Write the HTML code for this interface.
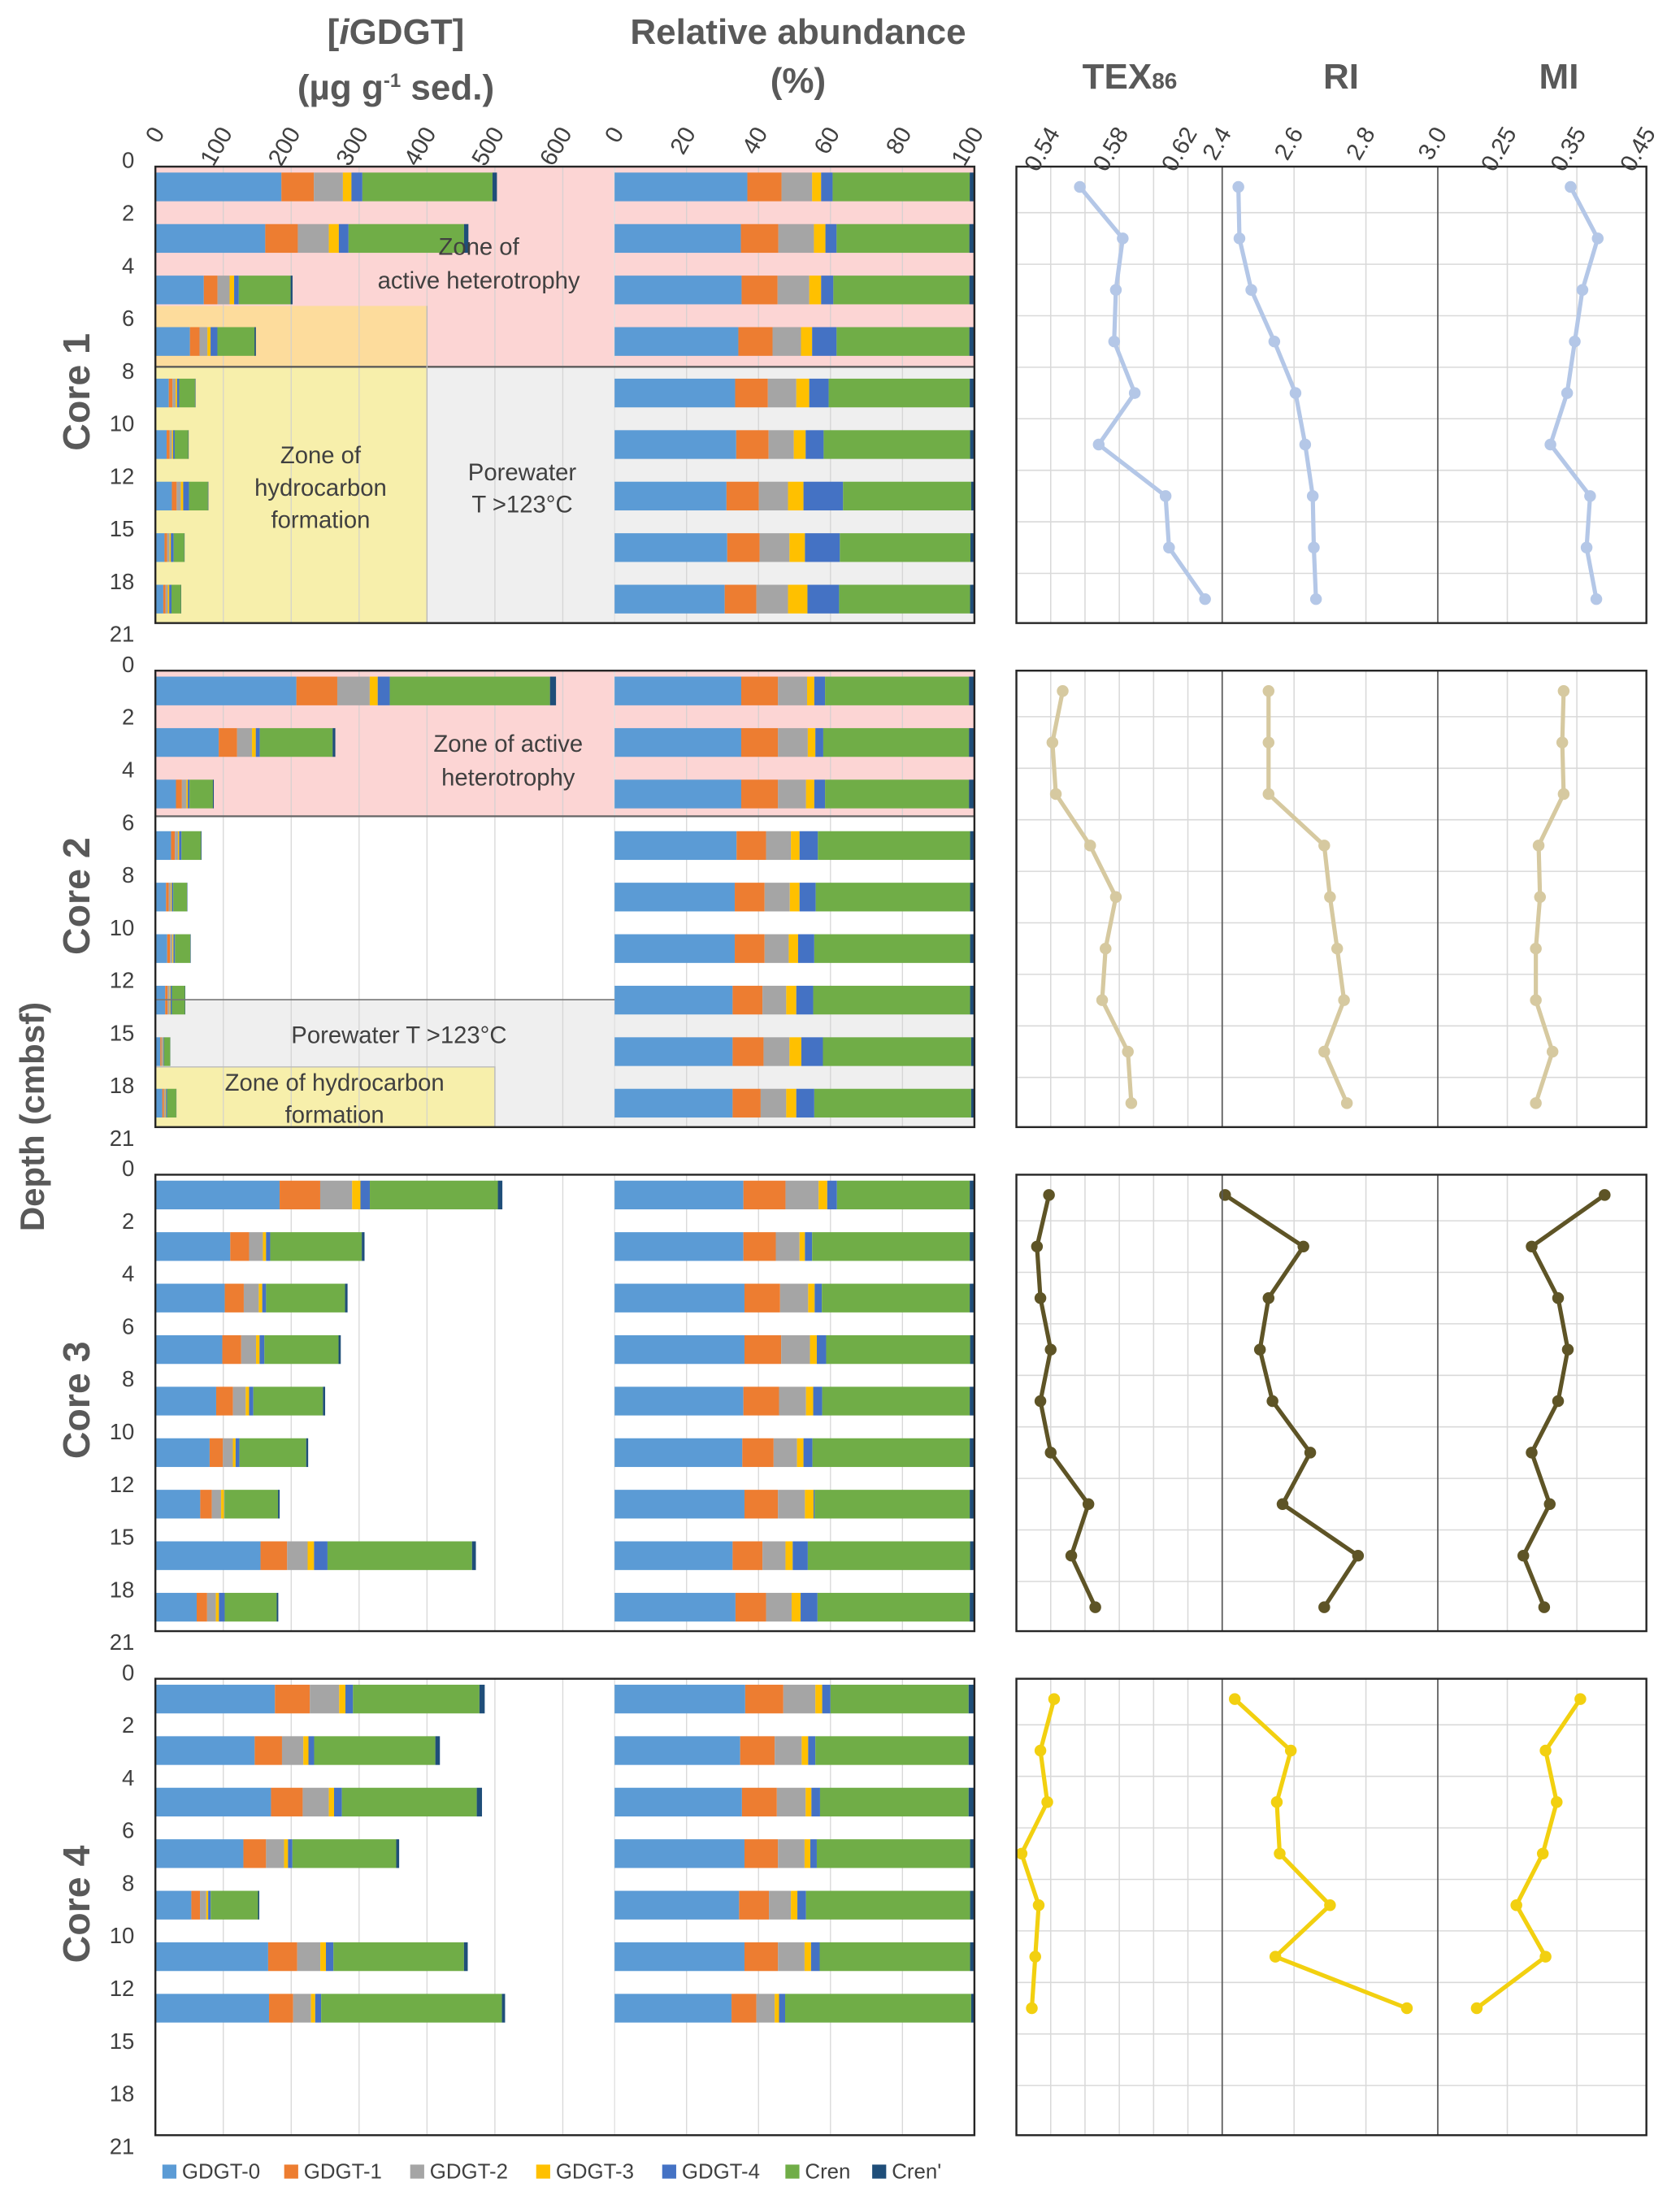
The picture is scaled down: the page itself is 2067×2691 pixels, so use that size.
<!DOCTYPE html>
<html><head><meta charset="utf-8"><title>iGDGT cores</title>
<style>
html,body{margin:0;padding:0;background:#fff;}
svg{display:block;font-family:"Liberation Sans",sans-serif;}
.zt{font-family:"Liberation Sans Narrow","Liberation Sans",sans-serif;font-size:17px;fill:#404040;text-anchor:middle;}
</style></head>
<body>
<svg id="chart" xmlns="http://www.w3.org/2000/svg" width="2067" height="2691" viewBox="0 0 1200 1562" preserveAspectRatio="none">
<g id="bg"></g>
<g id="grid"></g>
<g id="marks"></g>
<g id="frame"></g>
<g id="labels"></g>
</svg>
<script>
// ---------- DATA ----------
const compounds = ["GDGT-0","GDGT-1","GDGT-2","GDGT-3","GDGT-4","Cren","Cren'"];
const colors = ["#5b9bd5","#ed7d31","#a5a5a5","#ffc000","#4472c4","#70ad47","#1f4e79"];
const depthLabels = ["0","2","4","6","8","10","12","15","18","21"];
const concTicks = [0,100,200,300,400,500,600];
const pctTicks = [0,20,40,60,80,100];
const texTicks = ["0.54","0.58","0.62"];
const riTicks = ["2.4","2.6","2.8","3.0"];
const miTicks = ["0.25","0.35","0.45"];

const c1Total = [503,461,202,148,59,49,78,43,38];
const c1Pct = [[36.9,9.5,8.5,2.5,3.2,38.1,1.3],[35.1,10.4,9.9,3.2,3.1,36.9,1.4],[35.3,10.0,8.8,3.3,3.4,37.8,1.4],[34.4,9.5,7.9,3.1,6.8,36.9,1.4],[33.5,9.1,7.9,3.6,5.4,39.2,1.3],[33.8,9.0,7.0,3.3,5.0,40.7,1.2],[31.1,9.0,8.1,4.3,11.0,35.6,0.9],[31.3,9.0,8.3,4.3,9.7,36.3,1.1],[30.6,8.8,8.8,5.4,8.8,36.4,1.2]];
const c1Tex = [0.557,0.582,0.578,0.577,0.589,0.568,0.607,0.609,0.630];
const c1Ri = [2.445,2.448,2.481,2.545,2.604,2.631,2.652,2.655,2.661];
const c1Mi = [0.341,0.380,0.358,0.347,0.336,0.312,0.369,0.364,0.378];

const c2Total = [590,265,86,68,47,52,44,22,31];
const c2Pct = [[35.2,10.2,8.1,2.0,3.0,40.0,1.5],[35.2,10.2,8.3,2.1,2.2,40.5,1.5],[35.2,10.2,7.8,2.3,3.0,40.0,1.5],[33.9,8.2,6.9,2.4,5.1,42.3,1.2],[33.4,8.3,7.0,2.7,4.5,42.9,1.2],[33.4,8.3,6.7,2.6,4.5,43.3,1.2],[32.8,8.3,6.6,2.8,4.7,43.6,1.2],[32.8,8.6,7.2,3.3,6.0,41.2,0.9],[32.8,7.8,7.1,2.8,5.0,43.6,0.9]];
const c2Tex = [0.547,0.541,0.543,0.563,0.578,0.572,0.570,0.585,0.587];
const c2Ri = [2.529,2.529,2.529,2.684,2.700,2.720,2.739,2.684,2.747];
const c2Mi = [0.331,0.329,0.331,0.295,0.297,0.291,0.291,0.315,0.291];

const c3Total = [511,308,283,273,250,225,183,472,181];
const c3Pct = [[35.8,11.7,9.2,2.4,2.7,36.9,1.3],[35.8,9.0,6.6,1.5,2.0,43.8,1.3],[36.1,9.9,7.8,1.8,2.0,41.1,1.3],[36.1,10.2,8.0,1.9,2.6,40.0,1.2],[35.8,9.9,7.5,2.0,2.5,41.0,1.3],[35.5,8.7,6.5,1.8,2.5,43.7,1.3],[36.1,9.3,7.5,2.4,0.3,43.1,1.3],[32.8,8.3,6.4,2.0,4.2,45.1,1.2],[33.6,8.5,7.1,2.5,4.7,42.3,1.3]];
const c3Tex = [0.539,0.532,0.534,0.540,0.534,0.540,0.562,0.552,0.566];
const c3Ri = [2.408,2.626,2.529,2.505,2.540,2.645,2.568,2.778,2.684];
const c3Mi = [0.390,0.285,0.323,0.337,0.323,0.285,0.311,0.273,0.303];

const c4Total = [485,419,481,359,153,460,515];
const c4Pct = [[36.3,10.6,8.9,1.9,2.3,38.4,1.6],[34.9,9.6,7.5,1.8,2.0,42.6,1.6],[35.4,9.7,8.0,1.6,2.4,41.3,1.6],[36.1,9.3,7.4,1.6,1.8,42.6,1.2],[34.6,8.3,6.1,1.8,2.4,45.6,1.2],[36.1,9.3,7.4,1.8,2.4,41.8,1.2],[32.5,6.9,5.1,1.2,1.7,51.7,0.9]];
const c4Tex = [0.542,0.534,0.538,0.523,0.533,0.531,0.529];
const c4Ri = [2.435,2.591,2.552,2.560,2.700,2.548,2.914];
const c4Mi = [0.355,0.305,0.321,0.301,0.263,0.305,0.206];

const lineColors = ["#b4c7e7","#d6c9a0","#5e5426","#f2d010"];

// ---------- HELPERS ----------
const NS = "http://www.w3.org/2000/svg";
function mk(tag, attrs, parent, text){
  const e = document.createElementNS(NS, tag);
  for (const k in attrs) e.setAttribute(k, attrs[k]);
  if (text !== undefined) e.textContent = text;
  parent.appendChild(e);
  return e;
}
const gBg = document.getElementById("bg"), gGrid = document.getElementById("grid"),
      gMarks = document.getElementById("marks"), gFrame = document.getElementById("frame"),
      gLab = document.getElementById("labels");

const L0 = 111, SPLIT = 439, R1 = 696;
const xConc = v => L0 + v * 0.485;
const xPct = v => SPLIT + v * 2.57;
const xTex = v => 726 + (v - 0.52) / 0.12 * 147;
const xRi = v => 873 + (v - 2.4) / 0.6 * 154;
const xMi = v => 1027 + (v - 0.15) / 0.3 * 149;
const coreY0 = k => 114 + 360 * k;
const yBar = (k, i) => coreY0(k) + 19.5 + 36.8 * i;
const BAR_H = 20.5;

const cores = [
  {total:c1Total, pct:c1Pct, tex:c1Tex, ri:c1Ri, mi:c1Mi},
  {total:c2Total, pct:c2Pct, tex:c2Tex, ri:c2Ri, mi:c2Mi},
  {total:c3Total, pct:c3Pct, tex:c3Tex, ri:c3Ri, mi:c3Mi},
  {total:c4Total, pct:c4Pct, tex:c4Tex, ri:c4Ri, mi:c4Mi}
];

// ---------- ZONES ----------
function rect(p, x, y, w, h, fill, name){
  const r = mk("rect", {x:x, y:y, width:w, height:h, fill:fill}, p);
  
  
  return r;
}
{
  const t = coreY0(0) + 5, b = coreY0(0) + 331, line = coreY0(0) + 148, yel = coreY0(0) + 104.5;
  rect(gBg, L0, t, R1 - L0, line - t, "#fcd5d4", "heterotrophy-zone-core1");
  rect(gBg, L0, line, R1 - L0, b - line, "#efefef", "porewater-zone-core1");
  rect(gBg, L0, yel, xConc(400) - L0, line - yel, "#fddc9c", "overlap-zone-core1");
  rect(gBg, L0, line, xConc(400) - L0, b - line, "#f7efab", "hydrocarbon-zone-core1");
  const l = mk("line", {x1:L0, x2:R1, y1:line, y2:line, stroke:"#555", "stroke-width":1.3}, gFrame);
  
  
  const l2 = mk("line", {x1:xConc(400), x2:xConc(400), y1:yel, y2:b, stroke:"#bbb", "stroke-width":0.8}, gFrame);
  
  
}
{
  const t = coreY0(1) + 5, b = coreY0(1) + 331, line = coreY0(1) + 109, grey = coreY0(1) + 240, yel = coreY0(1) + 288;
  rect(gBg, L0, t, R1 - L0, line - t, "#fcd5d4", "heterotrophy-zone-core2");
  rect(gBg, L0, grey, R1 - L0, b - grey, "#efefef", "porewater-zone-core2");
  rect(gBg, L0, yel, xConc(500) - L0, b - yel, "#f7efab", "hydrocarbon-zone-core2");
  const l = mk("line", {x1:L0, x2:R1, y1:line, y2:line, stroke:"#666", "stroke-width":1.3}, gFrame);
  
  
  const l2 = mk("line", {x1:L0, x2:SPLIT, y1:grey, y2:grey, stroke:"#777", "stroke-width":1}, gFrame);
  
  
  const l3 = mk("path", {d:`M${L0} ${yel}H${xConc(500)}V${b}`, fill:"none", stroke:"#bbb", "stroke-width":0.8}, gFrame);
  
  
}

// ---------- GRID + BARS + LINES ----------
cores.forEach((c, k) => {
  const t = coreY0(k) + 5, b = coreY0(k) + 331;
  concTicks.forEach(v => { if (v > 0) {
    const g = mk("line", {x1:xConc(v), x2:xConc(v), y1:t, y2:b, stroke:"#d0d0d0", "stroke-width":0.8, "stroke-opacity":0.8}, gGrid);
    
    
  }});
  pctTicks.forEach(v => { if (v > 0 && v < 100) {
    const g = mk("line", {x1:xPct(v), x2:xPct(v), y1:t, y2:b, stroke:"#d0d0d0", "stroke-width":0.8, "stroke-opacity":0.8}, gGrid);
    
    
  }});
  const sep = mk("line", {x1:SPLIT, x2:SPLIT, y1:t, y2:b, stroke:"#e0e0e0", "stroke-width":0.8}, gGrid);
  
  

  c.pct.forEach((p, i) => {
    const yc = yBar(k, i);
    let accC = 0, accP = 0;
    p.forEach((v, j) => {
      const conc = c.total[i] * v / 100;
      const r1 = mk("rect", {x:xConc(accC), y:yc - BAR_H/2, width:Math.max(0, xConc(accC + conc) - xConc(accC)), height:BAR_H, fill:colors[j]}, gMarks);
      
      
      const r2 = mk("rect", {x:xPct(accP), y:yc - BAR_H/2, width:Math.max(0, xPct(accP + v) - xPct(accP)), height:BAR_H, fill:colors[j]}, gMarks);
      
      
      accC += conc; accP += v;
    });
  });

  [0.54,0.56,0.58,0.60,0.62].forEach(v => {
    const g = mk("line", {x1:xTex(v), x2:xTex(v), y1:t, y2:b, stroke:"#d9d9d9", "stroke-width":0.9}, gGrid);
    
    
  });
  [2.6,2.8].forEach(v => {
    const g = mk("line", {x1:xRi(v), x2:xRi(v), y1:t, y2:b, stroke:"#d9d9d9", "stroke-width":0.9}, gGrid);
    
    
  });
  [0.25,0.35].forEach(v => {
    const g = mk("line", {x1:xMi(v), x2:xMi(v), y1:t, y2:b, stroke:"#d9d9d9", "stroke-width":0.9}, gGrid);
    
    
  });
  for (let i = 0; i < 8; i++) {
    const y = yBar(k, i) + 18.4;
    const g = mk("line", {x1:726, x2:1176, y1:y, y2:y, stroke:"#d9d9d9", "stroke-width":0.9}, gGrid);
    
    
  }
  [873, 1027].forEach(x => {
    const d = mk("line", {x1:x, x2:x, y1:t, y2:b, stroke:"#595959", "stroke-width":1}, gFrame);
    
    
  });

  const series = [[c.tex, xTex, 'tex86'], [c.ri, xRi, 'ri'], [c.mi, xMi, 'mi']];
  series.forEach(([arr, fx, nm]) => {
    const pts = arr.map((v, i) => fx(v).toFixed(2) + "," + yBar(k, i).toFixed(2)).join(" ");
    const pl = mk("polyline", {points:pts, fill:"none", stroke:lineColors[k], "stroke-width":3, "stroke-linejoin":"round"}, gMarks);
    
    
    arr.forEach((v, i) => {
      const cc = mk("circle", {cx:fx(v), cy:yBar(k, i), r:4.2, fill:lineColors[k]}, gMarks);
      
      
    });
  });

  const f1 = mk("rect", {x:L0, y:t, width:R1 - L0, height:b - t, fill:"none", stroke:"#262626", "stroke-width":1.4}, gFrame);
  
  
  const f2 = mk("rect", {x:726, y:t, width:450, height:b - t, fill:"none", stroke:"#262626", "stroke-width":1.4}, gFrame);
  
  

  depthLabels.forEach((d, i) => {
    const tx = mk("text", {x:96, y:coreY0(k) + 37.6 * i + 6, "font-size":16, fill:"#404040", "text-anchor":"end"}, gLab, d);
    
    
  });
  const cl = mk("text", {x:0, y:0, "font-size":27, "font-weight":"bold", fill:"#595959", "text-anchor":"middle", transform:`translate(64 ${coreY0(k)+166}) rotate(-90)`}, gLab, "Core " + (k+1));
  
  
});

// ---------- AXIS LABELS ----------
function rotTick(x, txt, name){
  const t = mk("text", {x:0, y:0, "font-size":17, fill:"#404040", "text-anchor":"end", transform:`translate(${x+7} 95) rotate(-60)`}, gLab, txt);
  
  
}
concTicks.forEach(v => rotTick(xConc(v), String(v), 'conc-tick-label'));
pctTicks.forEach(v => rotTick(xPct(v), String(v), 'pct-tick-label'));
texTicks.forEach(v => rotTick(xTex(+v), v, 'tex-tick-label'));
riTicks.forEach(v => rotTick(xRi(+v), v, 'ri-tick-label'));
miTicks.forEach(v => rotTick(xMi(+v), v, 'mi-tick-label'));

[["Zone of",342,182],["active heterotrophy",342,206],["Zone of",229,331],["hydrocarbon",229,354],["formation",229,377],
 ["Porewater",373,343],["T >123°C",373,366],["Zone of active",363,537],["heterotrophy",363,561],
 ["Porewater T >123°C",285,745],["Zone of hydrocarbon",239,779],["formation",239,802]].forEach(([s,x,y]) => {
  const t = mk("text", {x:x, y:y, class:"zt"}, gLab, s);
  
  
});

const legX = [116,203,293,383,473,561,623];
compounds.forEach((c, j) => {
  const s = mk("rect", {x:legX[j], y:1546, width:10, height:10, fill:colors[j]}, gLab);
  
  
  const t = mk("text", {x:legX[j] + 14, y:1556, "font-size":15, fill:"#404040"}, gLab, c);
  
  
});
</script>
<div style="position:absolute;left:0;top:0;width:2067px;height:2691px;pointer-events:none;font-family:'Liberation Sans',sans-serif;color:#595959;font-weight:bold;">
  <div style="position:absolute;left:287px;top:10px;width:400px;text-align:center;font-size:44px;line-height:60px;">[<i>i</i>GDGT]<br>(µg g<sup style="font-size:24px">-1</sup> sed.)</div>
  <div style="position:absolute;left:732px;top:10px;width:500px;text-align:center;font-size:44px;line-height:60px;">Relative abundance<br>(%)</div>
  <div style="position:absolute;left:1290px;top:70px;width:200px;text-align:center;font-size:44px;">TEX<span style="font-size:28px">86</span></div>
  <div style="position:absolute;left:1550px;top:70px;width:200px;text-align:center;font-size:44px;">RI</div>
  <div style="position:absolute;left:1818px;top:70px;width:200px;text-align:center;font-size:44px;">MI</div>
  <div style="position:absolute;left:-120px;top:1350px;width:320px;text-align:center;font-size:42px;transform:rotate(-90deg);">Depth (cmbsf)</div>
</div>
</body></html>
